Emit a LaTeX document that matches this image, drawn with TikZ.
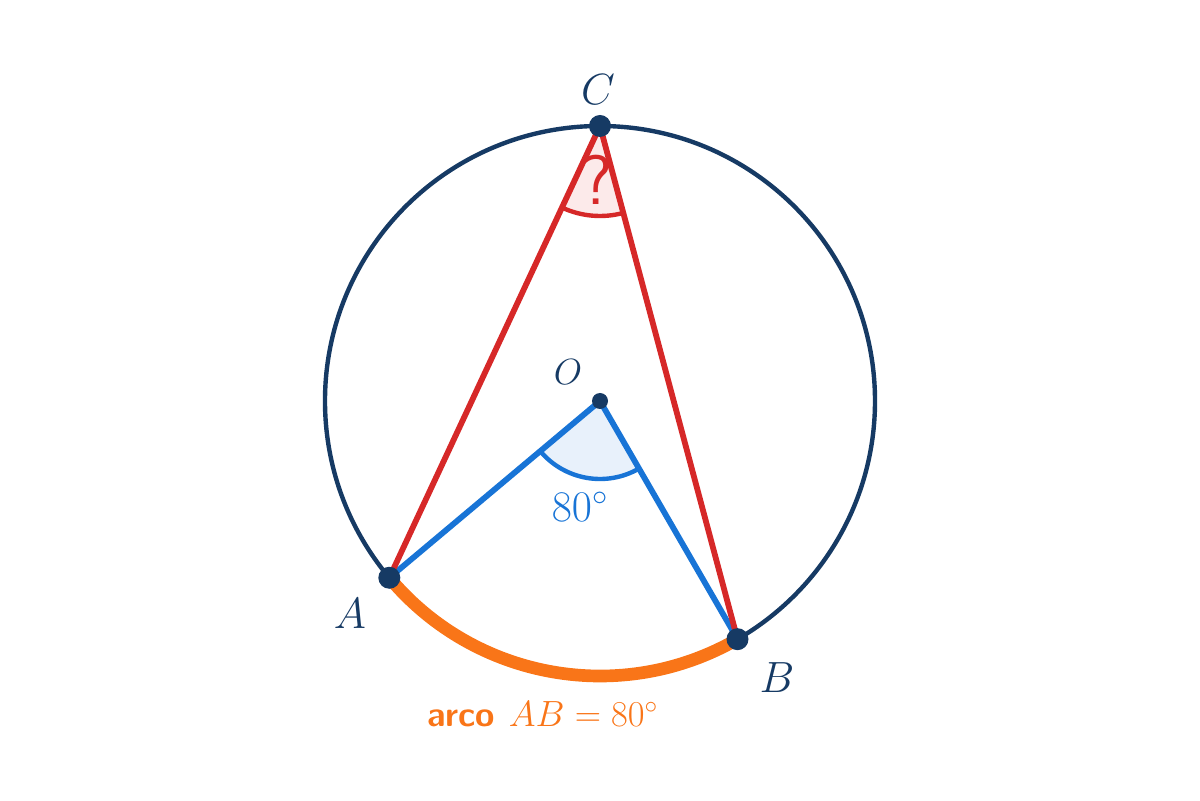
\documentclass[tikz,border=0pt]{standalone}
\usetikzlibrary{angles}
\definecolor{navy}{RGB}{22,58,100}
\definecolor{chordred}{RGB}{214,40,40}
\definecolor{radblue}{RGB}{24,116,214}
\definecolor{arcorange}{RGB}{249,117,24}
\definecolor{fillblue}{RGB}{232,241,251}
\definecolor{fillred}{RGB}{252,234,234}
\tikzset{
  ptlabel/.style={text=navy, font=\fontsize{25}{30}\selectfont},
  chord/.style={chordred, line width=3.3pt, line cap=round},
  radius line/.style={radblue, line width=3.3pt, line cap=round},
  anglemark/.style={line width=2.5pt},
}
\begin{document}
\begin{tikzpicture}
        \useasboundingbox (-12,-7.98) rectangle (12,8.02);
        % points
        \coordinate (O) at (0,0);
        \coordinate (A) at (220:5.5);
        \coordinate (B) at (300:5.5);
        \coordinate (C) at (90:5.5);
        % angles
        \pic[anglemark, draw=radblue, fill=fillblue, angle radius=1.56cm] {angle=A--O--B};
        \pic[anglemark, draw=chordred, fill=fillred, angle radius=1.8cm] {angle=A--C--B};
        % circle and arc
        \draw[navy, line width=2.5pt] (O) circle (5.5);
        \draw[arcorange, line width=7.2pt] (A) arc[start angle=220, end angle=300, radius=5.5];
        % chords and radii
        \draw[radius line] (A) -- (O);
        \draw[radius line] (O) -- (B);
        \draw[chord] (A) -- (C);
        \draw[chord] (C) -- (B);
        % dots
        \fill[navy] (A) circle (0.22);
        \fill[navy] (B) circle (0.22);
        \fill[navy] (C) circle (0.22);
        \fill[navy] (O) circle (0.16);
        % labels
        \node[ptlabel] (lA) at (-5.0,-4.26) {$A$};
        \node[ptlabel] (lB) at (3.54,-5.54) {$B$};
        \node[ptlabel] (lC) at (-0.04,6.22) {$C$};
        \node[text=navy, font=\fontsize{21}{25}\selectfont] (lO) at (-0.64,0.58) {$O$};
        \node[text=radblue, font=\fontsize{25}{30}\selectfont] (deg) at (-0.4,-2.12) {$80^\circ$};
        \node[text=chordred, font=\fontsize{40}{48}\selectfont\sffamily] (q) at (-0.06,4.42) {?};
        \node[text=arcorange, font=\fontsize{20}{24}\selectfont] (arcAB) at (-1.14,-6.26) {\textsf{\textbf{arco}}\hspace{0.4em}$AB = 80^\circ$};
\end{tikzpicture}
\end{document}
